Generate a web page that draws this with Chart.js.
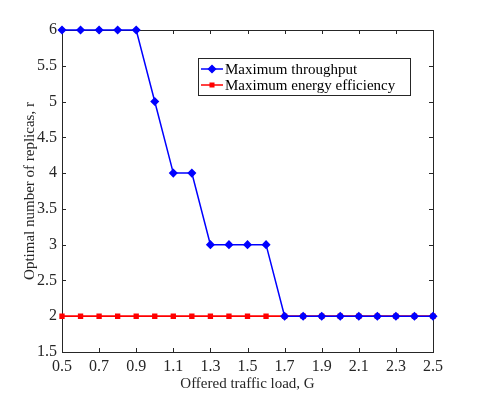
<!DOCTYPE html>
<html>
<head>
<meta charset="utf-8">
<script src="https://cdn.jsdelivr.net/npm/chart.js@4"></script>
<style>
  html, body { margin: 0; padding: 0; background: #fff; }
  #wrap { width: 478px; height: 395px; }
</style>
</head>
<body>
<div id="wrap"><canvas id="chart" width="478" height="395"></canvas></div>
<script>
// offered traffic load G
const loads = [0.5, 0.6, 0.7, 0.8, 0.9, 1.0, 1.1, 1.2, 1.3, 1.4, 1.5,
               1.6, 1.7, 1.8, 1.9, 2.0, 2.1, 2.2, 2.3, 2.4, 2.5];
// optimal number of replicas
const maxThroughput = [6, 6, 6, 6, 6, 5, 4, 4, 3, 3, 3,
                       3, 2, 2, 2, 2, 2, 2, 2, 2, 2];
const maxEnergyEff = [2, 2, 2, 2, 2, 2, 2, 2, 2, 2, 2,
                      2, 2, 2, 2, 2, 2, 2, 2, 2, 2];
const seriesNames = ['Maximum throughput', 'Maximum energy efficiency'];

const FONT = '"Liberation Serif", "Times New Roman", serif';
const AXIS = '#262626';

const toPoints = (ys) => ys.map((y, i) => ({ x: loads[i], y: y }));

// MATLAB style box with inward ticks
const boxPlugin = {
    id: 'box',
    beforeDatasetsDraw(chart) {
        const ctx = chart.ctx;
        const a = chart.chartArea;
        const xs = chart.scales.x, ys = chart.scales.y;
        ctx.save();
        ctx.strokeStyle = AXIS;
        ctx.lineWidth = 1;
        ctx.strokeRect(Math.round(a.left) + 0.5, Math.round(a.top) + 0.5,
            Math.round(a.right - a.left), Math.round(a.bottom - a.top));
        ctx.beginPath();
        xs.ticks.forEach(t => {
            const px = Math.round(xs.getPixelForValue(t.value)) + 0.5;
            ctx.moveTo(px, a.bottom); ctx.lineTo(px, a.bottom - 4);
            ctx.moveTo(px, a.top); ctx.lineTo(px, a.top + 4);
        });
        ys.ticks.forEach(t => {
            const py = Math.round(ys.getPixelForValue(t.value)) + 0.5;
            ctx.moveTo(a.left, py); ctx.lineTo(a.left + 4, py);
            ctx.moveTo(a.right, py); ctx.lineTo(a.right - 4, py);
        });
        ctx.stroke();
        ctx.restore();
    }
};

// legend box inside the axes
const legendPlugin = {
    id: 'boxLegend',
    afterDraw(chart) {
        const ctx = chart.ctx;
        const x0 = 198, y0 = 58, w = 212, h = 37;
        ctx.save();
        ctx.fillStyle = '#fff';
        ctx.fillRect(x0, y0, w, h);
        ctx.strokeStyle = AXIS;
        ctx.lineWidth = 1;
        ctx.strokeRect(x0 + 0.5, y0 + 0.5, w, h);
        ctx.font = '15px ' + FONT;
        ctx.textBaseline = 'middle';
        chart.data.datasets.forEach((ds, i) => {
            const cy = y0 + 11 + i * 16;
            ctx.strokeStyle = ds.borderColor;
            ctx.lineWidth = 1.5;
            ctx.beginPath();
            ctx.moveTo(x0 + 3, cy); ctx.lineTo(x0 + 25, cy);
            ctx.stroke();
            Chart.helpers.drawPoint(ctx, {
                pointStyle: ds.pointStyle, radius: ds.pointRadius, rotation: 0,
                borderWidth: 1
            }, x0 + 14, cy);
            ctx.fillStyle = ds.pointBackgroundColor;
            ctx.fill();
            ctx.fillStyle = '#000';
            ctx.fillText(ds.label, x0 + 27, cy + 1);
        });
        ctx.restore();
    }
};

const cfg = {
    type: 'line',
    data: {
        datasets: [
            {
                label: seriesNames[0],
                data: toPoints(maxThroughput),
                borderColor: '#0000ff',
                backgroundColor: '#0000ff',
                pointBackgroundColor: '#0000ff',
                pointBorderColor: '#0000ff',
                pointStyle: 'rectRot',
                pointRadius: 3.5,
                borderWidth: 1.5,
                clip: false,
                order: 1
            },
            {
                label: seriesNames[1],
                data: toPoints(maxEnergyEff),
                borderColor: '#ff0000',
                backgroundColor: '#ff0000',
                pointBackgroundColor: '#ff0000',
                pointBorderColor: '#ff0000',
                pointStyle: 'rect',
                pointRadius: 2.5,
                borderWidth: 1.8,
                clip: false,
                order: 2
            }
        ]
    },
    options: {
        responsive: false,
        animation: false,
        layout: { padding: { left: 0, right: 45, top: 30, bottom: 0 } },
        plugins: {
            legend: { display: false },
            tooltip: { enabled: false }
        },
        scales: {
            x: {
                type: 'linear',
                min: 0.5, max: 2.5,
                grid: { display: false, drawTicks: false },
                border: { display: false },
                ticks: {
                    stepSize: 0.2,
                    padding: 5,
                    color: AXIS,
                    font: { family: FONT, size: 16 },
                    callback: v => v.toFixed(1)
                },
                title: {
                    display: true,
                    text: 'Offered traffic load, G',
                    color: AXIS,
                    font: { family: FONT, size: 15 },
                    padding: { top: 0, bottom: 2 }
                },
                afterFit: s => { s.height = 43; }
            },
            y: {
                type: 'linear',
                min: 1.5, max: 6,
                grid: { display: false, drawTicks: false },
                border: { display: false },
                ticks: {
                    stepSize: 0.5,
                    padding: 5,
                    color: AXIS,
                    font: { family: FONT, size: 16 },
                    callback: v => String(Math.round(v * 10) / 10)
                },
                title: {
                    display: true,
                    text: 'Optimal number of replicas, r',
                    color: AXIS,
                    font: { family: FONT, size: 15 },
                    padding: { top: 21, bottom: 0 }
                },
                afterFit: s => { s.width = 62; }
            }
        }
    },
    plugins: [boxPlugin, legendPlugin]
};

new Chart(document.getElementById('chart'), cfg);
</script>
</body>
</html>
